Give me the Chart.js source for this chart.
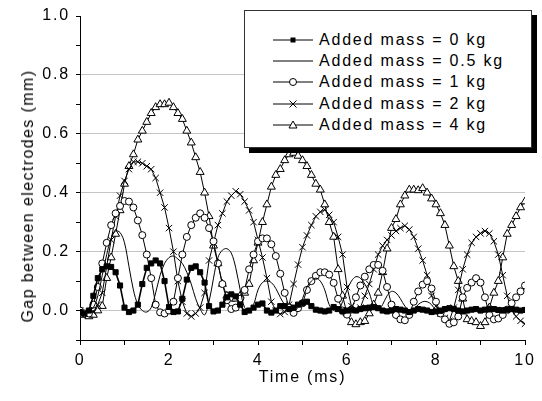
<!DOCTYPE html>
<html>
<head>
<meta charset="utf-8">
<script src="https://cdn.jsdelivr.net/npm/chart.js@4.4.1/dist/chart.umd.min.js"></script>
<style>
    html, body { margin: 0; padding: 0; background: #fff; }
    #wrap { position: relative; width: 542px; height: 401px; font-family: 'Liberation Sans', Arial, sans-serif; }
    #chart { position: absolute; left: 0; top: 0; }
    #ytitle {
        position: absolute; left: 28px; top: 196px;
        transform: translate(-50%, -50%) rotate(-90deg);
        white-space: nowrap; font-size: 16px; letter-spacing: 1.4px; color: #000;
    }
    #legend-shadow {
        position: absolute; left: 249px; top: 15px; width: 288px; height: 138px; background: #000;
    }
    #legend {
        position: absolute; left: 244px; top: 10px; width: 288px; height: 138px;
        border: 1px solid #333; background: #fff;
        padding-top: 18px; box-sizing: border-box;
    }
    .legend-row { display: flex; align-items: center; height: 21.4px; padding-left: 28px; }
    .legend-row svg { flex: none; }
    .legend-row span { margin-left: 6px; font-size: 16px; letter-spacing: 1.8px; white-space: nowrap; }
</style>
</head>
<body>
<div id="wrap">
    <canvas id="chart" width="542" height="401"></canvas>
    <div id="ytitle">Gap between electrodes (mm)</div>
    <div id="legend-shadow"></div>
    <div id="legend"></div>
</div>
<script>
// time axis (ms), one sample every 0.1 ms
const time = [
    0.0, 0.1, 0.2, 0.3, 0.4, 0.5, 0.6, 0.7, 0.8, 0.9,
    1.0, 1.1, 1.2, 1.3, 1.4, 1.5, 1.6, 1.7, 1.8, 1.9,
    2.0, 2.1, 2.2, 2.3, 2.4, 2.5, 2.6, 2.7, 2.8, 2.9,
    3.0, 3.1, 3.2, 3.3, 3.4, 3.5, 3.6, 3.7, 3.8, 3.9,
    4.0, 4.1, 4.2, 4.3, 4.4, 4.5, 4.6, 4.7, 4.8, 4.9,
    5.0, 5.1, 5.2, 5.3, 5.4, 5.5, 5.6, 5.7, 5.8, 5.9,
    6.0, 6.1, 6.2, 6.3, 6.4, 6.5, 6.6, 6.7, 6.8, 6.9,
    7.0, 7.1, 7.2, 7.3, 7.4, 7.5, 7.6, 7.7, 7.8, 7.9,
    8.0, 8.1, 8.2, 8.3, 8.4, 8.5, 8.6, 8.7, 8.8, 8.9,
    9.0, 9.1, 9.2, 9.3, 9.4, 9.5, 9.6, 9.7, 9.8, 9.9,
    10.0
];

// gap between electrodes (mm) for each added mass
const mass0 = [
    -0.005, -0.01, 0.0, 0.05, 0.11, 0.14, 0.15, 0.148, 0.13, 0.085,
    0.01, -0.005, 0.0, 0.02, 0.09, 0.145, 0.16, 0.17, 0.16, 0.10,
    0.012, -0.005, -0.003, 0.04, 0.105, 0.145, 0.15, 0.13, 0.095, 0.015,
    -0.003, 0.0, 0.02, 0.045, 0.055, 0.048, 0.02, -0.005, 0.0, 0.01,
    0.02, 0.024, 0.0, -0.007, 0.0, 0.015, 0.015, 0.005, 0.01, 0.02,
    0.025, 0.03, 0.015, 0.003, 0.0, -0.003, 0.0, 0.012, 0.005, -0.003,
    0.0, 0.003, 0.0, 0.005, 0.008, 0.01, 0.012, 0.008, 0.0, -0.003,
    0.0, 0.005, 0.003, 0.0, -0.005, 0.0, 0.005, 0.003, 0.0, -0.005,
    -0.003, 0.0, 0.005, 0.008, 0.005, 0.0, -0.003, 0.0, 0.003, 0.005,
    0.0, 0.003, 0.006, 0.005, 0.002, 0.0, 0.003, 0.005, 0.003, 0.0,
    0.002
];
const mass05 = [
    0.0, -0.005, 0.0, 0.01, 0.05, 0.12, 0.19, 0.245, 0.27, 0.265,
    0.23, 0.15, 0.07, 0.02, 0.0, -0.005, 0.01, 0.06, 0.12, 0.16,
    0.18, 0.185, 0.175, 0.16, 0.13, 0.09, 0.04, 0.005, -0.015, 0.03,
    0.11, 0.18, 0.205, 0.21, 0.195, 0.145, 0.07, 0.01, 0.0, 0.02,
    0.07, 0.095, 0.10, 0.095, 0.075, 0.045, 0.02, 0.005, 0.0, 0.01,
    0.04, 0.08, 0.10, 0.11, 0.10, 0.07, 0.02, 0.0, 0.0, 0.03,
    0.07, 0.10, 0.115, 0.11, 0.09, 0.06, 0.015, 0.0, 0.02, 0.05,
    0.065, 0.06, 0.04, 0.015, 0.0, 0.005, 0.02, 0.03, 0.03, 0.02,
    0.0, -0.01, -0.005, 0.005, 0.01, 0.005, 0.0, 0.0, 0.005, 0.01,
    0.005, 0.0, -0.005, 0.0, 0.005, 0.01, 0.01, 0.005, 0.0, 0.005,
    0.01
];
const mass1 = [
    0.0, -0.01, -0.01, 0.02, 0.08, 0.16, 0.23, 0.29, 0.33, 0.355,
    0.372, 0.37, 0.35, 0.306, 0.256, 0.19, 0.11, 0.02, -0.006, -0.01,
    0.0, 0.03, 0.11, 0.19, 0.25, 0.29, 0.315, 0.33, 0.315, 0.28,
    0.235, 0.16, 0.09, 0.035, 0.005, 0.01, 0.04, 0.07, 0.14, 0.19,
    0.235, 0.245, 0.245, 0.225, 0.185, 0.125, 0.06, 0.01, -0.008, 0.008,
    0.025, 0.07, 0.10, 0.118, 0.13, 0.13, 0.122, 0.094, 0.04, 0.0,
    -0.014, 0.003, 0.045, 0.085, 0.115, 0.14, 0.155, 0.155, 0.135, 0.08,
    0.02, -0.015, -0.03, -0.033, -0.015, 0.03, 0.065, 0.088, 0.10, 0.075,
    0.03, -0.01, -0.03, -0.045, -0.04, -0.02, 0.045, 0.077, 0.095, 0.11,
    0.095, 0.045, -0.015, -0.03, -0.027, -0.015, 0.003, 0.025, 0.045, 0.065,
    0.085
];
const mass2 = [
    0.0, -0.005, -0.01, -0.005, 0.02, 0.06, 0.15, 0.24, 0.32, 0.39,
    0.44, 0.48, 0.505, 0.505, 0.50, 0.49, 0.48, 0.45, 0.40, 0.35,
    0.28, 0.20, 0.10, 0.03, -0.01, -0.02, -0.01, 0.01, 0.06, 0.17,
    0.23, 0.29, 0.33, 0.37, 0.39, 0.405, 0.395, 0.37, 0.34, 0.30,
    0.24, 0.18, 0.11, 0.03, 0.0, -0.012, -0.005, 0.02, 0.09, 0.156,
    0.215, 0.255, 0.29, 0.32, 0.335, 0.342, 0.325, 0.30, 0.25, 0.19,
    0.08, 0.015, 0.003, 0.01, 0.05, 0.09, 0.14, 0.19, 0.22, 0.24,
    0.255, 0.27, 0.28, 0.288, 0.275, 0.25, 0.21, 0.17, 0.12, 0.05,
    0.015, -0.01, -0.025, -0.035, 0.01, 0.07, 0.14, 0.19, 0.23, 0.25,
    0.262, 0.27, 0.262, 0.235, 0.19, 0.12, 0.05, 0.0, -0.02, -0.035,
    -0.045
];
const mass4 = [
    -0.01, -0.015, -0.02, -0.015, 0.0, 0.015, 0.11, 0.18, 0.26, 0.34,
    0.43, 0.49, 0.53, 0.58, 0.61, 0.64, 0.67, 0.69, 0.70, 0.70,
    0.705, 0.69, 0.67, 0.65, 0.61, 0.57, 0.52, 0.47, 0.40, 0.32,
    0.22, 0.16, 0.09, 0.05, 0.04, 0.04, 0.05, 0.06, 0.09, 0.17,
    0.23, 0.30, 0.36, 0.42, 0.46, 0.48, 0.51, 0.53, 0.535, 0.525,
    0.51, 0.49, 0.46, 0.43, 0.41, 0.36, 0.30, 0.25, 0.14, 0.05,
    -0.01, -0.04, -0.047, -0.04, -0.036, -0.01, 0.02, 0.06, 0.13, 0.21,
    0.28, 0.31, 0.36, 0.39, 0.41, 0.41, 0.408, 0.415, 0.40, 0.38,
    0.36, 0.33, 0.29, 0.22, 0.15, 0.10, 0.04, -0.03, -0.036, -0.04,
    -0.053, -0.04, 0.01, 0.06, 0.10, 0.18, 0.26, 0.29, 0.32, 0.35,
    0.37
];

const seriesLabels = [
    'Added mass = 0 kg',
    'Added mass = 0.5 kg',
    'Added mass = 1 kg',
    'Added mass = 2 kg',
    'Added mass = 4 kg'
];

const xLabelValues = [0, 2, 4, 6, 8, 10];
const yLabelValues = [0.0, 0.2, 0.4, 0.6, 0.8, 1.0];
const yGridValues = [0.0, 0.2, 0.4, 0.6, 0.8];

const FONT = "'Liberation Sans', Arial, sans-serif";

function pairs(values) {
    return values.map((v, i) => ({ x: time[i], y: v }));
}

function hasValue(list, v) {
    return list.some(t => Math.abs(t - v) < 1e-6);
}

// the reference text is set quite wide
const letterSpacing = {
    id: 'letterSpacing',
    beforeDraw(chart) { chart.ctx.letterSpacing = '1.8px'; }
};

const ctx = document.getElementById('chart').getContext('2d');

new Chart(ctx, {
    type: 'line',
    data: {
        datasets: [
            {
                label: seriesLabels[0], data: pairs(mass0),
                borderColor: '#000', borderWidth: 1.6,
                pointStyle: 'rect', pointRadius: 3.6,
                pointBackgroundColor: '#000', pointBorderColor: '#000', pointBorderWidth: 1
            },
            {
                label: seriesLabels[1], data: pairs(mass05),
                borderColor: '#000', borderWidth: 1, tension: 0.35, pointRadius: 0
            },
            {
                label: seriesLabels[2], data: pairs(mass1),
                borderColor: '#000', borderWidth: 1,
                pointStyle: 'circle', pointRadius: 3.5,
                pointBackgroundColor: '#fff', pointBorderColor: '#000', pointBorderWidth: 1
            },
            {
                label: seriesLabels[3], data: pairs(mass2),
                borderColor: '#000', borderWidth: 1,
                pointStyle: 'crossRot', pointRadius: 4.5,
                pointBorderColor: '#000', pointBorderWidth: 1
            },
            {
                label: seriesLabels[4], data: pairs(mass4),
                borderColor: '#000', borderWidth: 1,
                pointStyle: 'triangle', pointRadius: 4.6,
                pointBackgroundColor: '#fff', pointBorderColor: '#000', pointBorderWidth: 1
            }
        ]
    },
    options: {
        responsive: false,
        animation: false,
        layout: { padding: { top: 16, right: 17, left: 0, bottom: 0 } },
        plugins: {
            legend: { display: false },
            tooltip: { enabled: false }
        },
        scales: {
            x: {
                type: 'linear', min: 0, max: 10,
                afterFit(scale) { scale.height = 61; },
                ticks: {
                    stepSize: 1, autoSkip: false, maxRotation: 0, padding: 6,
                    color: '#000', font: { size: 16, family: FONT },
                    callback: v => hasValue(xLabelValues, v) ? String(v) : ''
                },
                grid: { color: 'rgba(0,0,0,0)', tickColor: '#000', tickLength: 5, drawOnChartArea: false },
                border: { color: '#000', width: 1 },
                title: {
                    display: true, text: 'Time (ms)', color: '#000',
                    font: { size: 16, family: FONT }, padding: { top: 0, bottom: 14 }
                }
            },
            y: {
                type: 'linear', min: -0.1, max: 1.0,
                afterFit(scale) { scale.width = 80; },
                ticks: {
                    stepSize: 0.1, autoSkip: false, padding: 6,
                    color: '#000', font: { size: 16, family: FONT },
                    callback: v => hasValue(yLabelValues, v) ? v.toFixed(1) : ''
                },
                grid: {
                    color: c => (c.tick && hasValue(yGridValues, c.tick.value)) ? '#c4c4c4' : 'rgba(0,0,0,0)',
                    tickColor: '#000', tickLength: 4, lineWidth: 1
                },
                border: { color: '#000', width: 1 }
            }
        }
    },
    plugins: [letterSpacing]
});

// legend: line sample with the series marker, then the label
const legendIcons = [
    '<rect x="17.5" y="4.5" width="5" height="5" fill="#000"/>',
    '',
    '<circle cx="20" cy="7" r="3.5" fill="#fff" stroke="#000" stroke-width="1"/>',
    '<path d="M16.5 3.5 L23.5 10.5 M23.5 3.5 L16.5 10.5" stroke="#000" stroke-width="1"/>',
    '<polygon points="20,3 24,10 16,10" fill="#fff" stroke="#000" stroke-width="1"/>'
];

const legend = document.getElementById('legend');
seriesLabels.forEach((label, i) => {
    const row = document.createElement('div');
    row.className = 'legend-row';
    row.innerHTML = `
        <svg width="40" height="14" viewBox="0 0 40 14">
            <line x1="0" y1="7" x2="40" y2="7" stroke="#000" stroke-width="1"/>
            ${legendIcons[i]}
        </svg>
        <span>${label}</span>
    `;
    legend.appendChild(row);
});
</script>
</body>
</html>
